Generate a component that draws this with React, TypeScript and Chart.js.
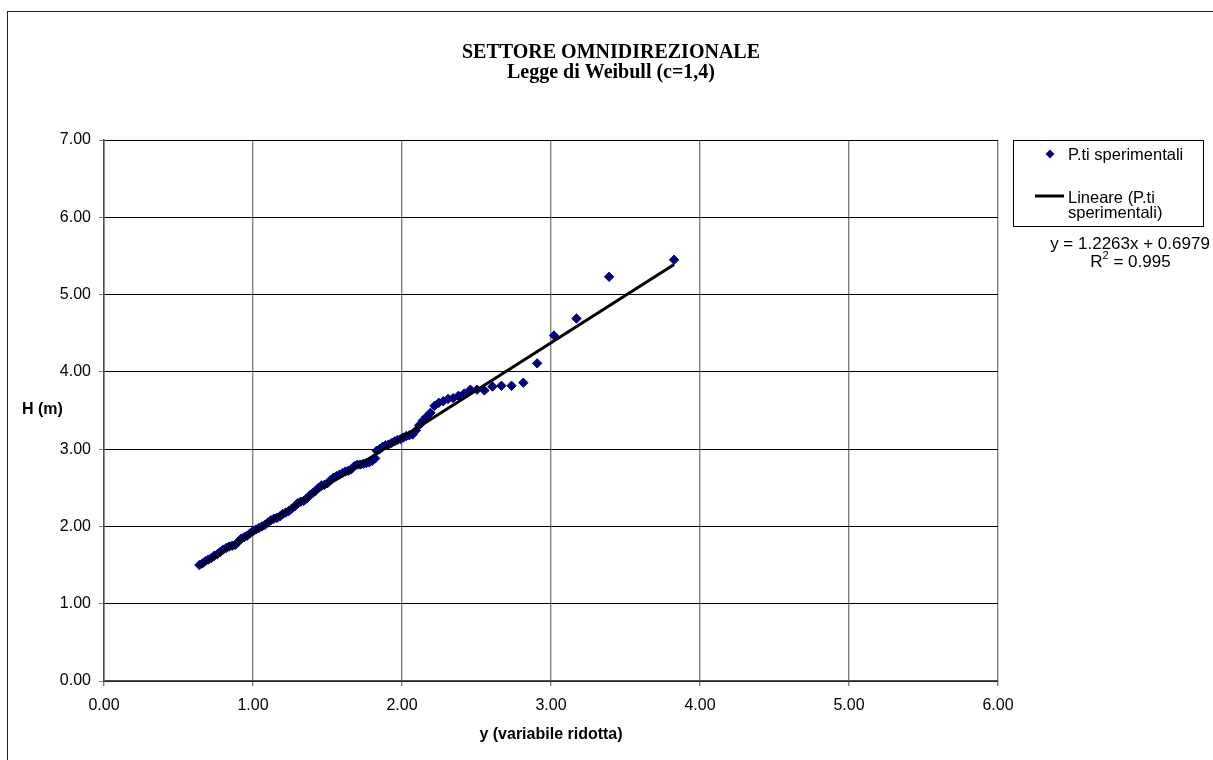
import React, { useEffect, useRef } from "react";
import { Chart, registerables } from "chart.js";

Chart.register(...registerables);

const titleLines = ["SETTORE OMNIDIREZIONALE", "Legge di Weibull (c=1,4)"];
const xAxisTitle = "y (variabile ridotta)";
const yAxisTitle = "H (m)";
const seriesLabel = "P.ti sperimentali";
const trendLegendLines = ["Lineare (P.ti", "sperimentali)"];
const trendSlope = 1.2263;
const trendIntercept = 0.6979;
const rSquared = "0.995";

const xTickValues = [0, 1, 2, 3, 4, 5, 6];
const yTickValues = [0, 1, 2, 3, 4, 5, 6, 7];

const xReduced = [
  0.64, 0.66, 0.68, 0.7, 0.72, 0.74, 0.76, 0.78, 0.8, 0.82,
  0.84, 0.86, 0.88, 0.9, 0.92, 0.94, 0.96, 0.98, 1.0, 1.02,
  1.04, 1.06, 1.08, 1.1, 1.12, 1.14, 1.16, 1.18, 1.2, 1.22,
  1.24, 1.26, 1.28, 1.3, 1.32, 1.34, 1.36, 1.38, 1.4, 1.42,
  1.44, 1.46, 1.48, 1.5, 1.52, 1.54, 1.56, 1.58, 1.6, 1.62,
  1.64, 1.66, 1.68, 1.7, 1.72, 1.74, 1.76, 1.78, 1.8, 1.82,
  1.83, 1.85, 1.87, 1.89, 1.91, 1.93, 1.95, 1.97, 1.99,
  2.009, 2.029, 2.049, 2.071, 2.093, 2.116, 2.14, 2.165, 2.191,
  2.218, 2.247, 2.277, 2.309, 2.343, 2.379, 2.417, 2.459, 2.504, 2.553,
  2.607, 2.667, 2.735, 2.814, 2.907, 3.02, 3.171, 3.39, 3.826,
];

const hValues = [
  1.5, 1.52, 1.55, 1.57, 1.59, 1.62, 1.64, 1.67, 1.7, 1.72,
  1.74, 1.75, 1.76, 1.8, 1.84, 1.86, 1.88, 1.91, 1.94, 1.96,
  1.98, 2.0, 2.02, 2.05, 2.08, 2.1, 2.11, 2.13, 2.16, 2.18,
  2.2, 2.23, 2.26, 2.3, 2.32, 2.33, 2.36, 2.4, 2.43, 2.46,
  2.5, 2.53, 2.54, 2.56, 2.6, 2.63, 2.65, 2.67, 2.69, 2.71,
  2.72, 2.74, 2.78, 2.8, 2.8, 2.81, 2.82, 2.83, 2.85, 2.88,
  2.98, 3.0, 3.03, 3.05, 3.06, 3.08, 3.1, 3.12, 3.13,
  3.15, 3.17, 3.18, 3.19, 3.24, 3.31, 3.37, 3.42, 3.47,
  3.56, 3.6, 3.62, 3.65, 3.66, 3.69, 3.72, 3.77, 3.77, 3.76,
  3.81, 3.82, 3.82, 3.86, 4.11, 4.47, 4.69, 5.23, 5.45,
];

const SANS = "'Liberation Sans', Arial, sans-serif";
const SERIF = "'Liberation Serif', 'Times New Roman', serif";
const NAVY = "#000080";

const decorPlugin = {
  id: "decor",
  afterDraw(chart: any) {
    const ctx = chart.ctx as CanvasRenderingContext2D;
    const area = chart.chartArea;
    ctx.save();
    ctx.fillStyle = "#000";
    // Title
    ctx.font = `bold 20px ${SERIF}`;
    ctx.textAlign = "center";
    ctx.textBaseline = "middle";
    ctx.fillText(titleLines[0], 611, 53);
    ctx.fillText(titleLines[1], 611, 73);
    // Axis titles
    ctx.font = `bold 16px ${SANS}`;
    ctx.textAlign = "center";
    ctx.fillText(xAxisTitle, (area.left + area.right) / 2, 735);
    ctx.textAlign = "left";
    ctx.fillText(yAxisTitle, 22, 410);
    // Legend
    ctx.strokeStyle = "#000";
    ctx.lineWidth = 1;
    ctx.strokeRect(1013.5, 140.5, 190, 86);
    ctx.fillStyle = NAVY;
    ctx.beginPath();
    ctx.moveTo(1050 - 4.5, 154);
    ctx.lineTo(1050, 154 - 4.5);
    ctx.lineTo(1050 + 4.5, 154);
    ctx.lineTo(1050, 154 + 4.5);
    ctx.closePath();
    ctx.fill();
    ctx.fillStyle = "#000";
    ctx.font = `16.5px ${SANS}`;
    ctx.textAlign = "left";
    ctx.fillText(seriesLabel, 1068, 155);
    ctx.lineWidth = 3;
    ctx.beginPath();
    ctx.moveTo(1035, 196);
    ctx.lineTo(1064, 196);
    ctx.stroke();
    ctx.fillText(trendLegendLines[0], 1068, 198);
    ctx.fillText(trendLegendLines[1], 1068, 213);
    // Equation
    ctx.font = `17px ${SANS}`;
    ctx.textAlign = "center";
    const eq = `y = ${trendSlope}x + ${trendIntercept}`;
    ctx.fillText(eq, 1130, 244);
    const partR = "R";
    const partRest = ` = ${rSquared}`;
    const wR = ctx.measureText(partR).width;
    const wRest = ctx.measureText(partRest).width;
    ctx.font = `11px ${SANS}`;
    const wSup = ctx.measureText("2").width;
    const total = wR + wSup + wRest;
    const x0 = 1130.5 - total / 2;
    ctx.textAlign = "left";
    ctx.font = `17px ${SANS}`;
    ctx.fillText(partR, x0, 262);
    ctx.font = `11px ${SANS}`;
    ctx.fillText("2", x0 + wR, 256);
    ctx.font = `17px ${SANS}`;
    ctx.fillText(partRest, x0 + wR + wSup, 262);
    ctx.restore();
  },
};

export default function App() {
  const canvasRef = useRef<HTMLCanvasElement | null>(null);

  useEffect(() => {
    const canvas = canvasRef.current;
    if (!canvas) return;
    const points = xReduced.map((x, i) => ({ x, y: hValues[i] }));
    const xMin = Math.min(...xReduced);
    const xMax = Math.max(...xReduced);
    const trend = [
      { x: xMin, y: trendSlope * xMin + trendIntercept },
      { x: xMax, y: trendSlope * xMax + trendIntercept },
    ];
    const chart = new Chart(canvas, {
      type: "scatter",
      data: {
        datasets: [
          {
            label: "Lineare (P.ti sperimentali)",
            data: trend,
            showLine: true,
            borderColor: "#000",
            borderWidth: 3,
            pointRadius: 0,
            order: 0,
          },
          {
            label: seriesLabel,
            data: points,
            pointStyle: "rectRot",
            pointRadius: 4.7,
            pointBorderWidth: 1,
            backgroundColor: NAVY,
            borderColor: NAVY,
            order: 1,
          },
        ],
      },
      options: {
        animation: false,
        responsive: false,
        devicePixelRatio: 1,
        layout: { padding: { left: 0, top: 140, right: 215, bottom: 0 } },
        plugins: {
          legend: { display: false },
          title: { display: false },
          tooltip: { enabled: false },
        },
        scales: {
          x: {
            type: "linear",
            min: xTickValues[0],
            max: xTickValues[xTickValues.length - 1],
            afterFit: (s: any) => {
              s.height = 79;
            },
            afterBuildTicks: (s: any) => {
              s.ticks = xTickValues.map((v) => ({ value: v }));
            },
            ticks: {
              font: { family: SANS, size: 16 },
              color: "#000",
              padding: 10,
              callback: (v: any) => Number(v).toFixed(2),
            },
            grid: {
              color: "#808080",
              lineWidth: 1.4,
              tickLength: 5,
              tickColor: "#808080",
            },
            border: { color: "#4d4d4d", width: 1.5 },
          },
          y: {
            type: "linear",
            min: yTickValues[0],
            max: yTickValues[yTickValues.length - 1],
            afterFit: (s: any) => {
              s.width = 104;
            },
            afterBuildTicks: (s: any) => {
              s.ticks = yTickValues.map((v) => ({ value: v }));
            },
            ticks: {
              font: { family: SANS, size: 16 },
              color: "#000",
              padding: 8,
              callback: (v: any) => Number(v).toFixed(2),
            },
            grid: {
              color: "#000",
              lineWidth: 1,
              tickLength: 5,
              tickColor: "#808080",
            },
            border: { color: "#4d4d4d", width: 1.5 },
          },
        },
      },
      plugins: [decorPlugin],
    });
    return () => chart.destroy();
  }, []);

  return (
    <div
      style={{
        position: "absolute",
        left: 0,
        top: 0,
        width: 1213,
        height: 760,
        overflow: "hidden",
        background: "#fff",
      }}
    >
      <canvas
        ref={canvasRef}
        width={1213}
        height={760}
        style={{ position: "absolute", left: 0, top: 0, width: 1213, height: 760 }}
      />
      <div
        style={{
          position: "absolute",
          left: 7,
          top: 11,
          width: 1300,
          height: 900,
          borderLeft: "1px solid #222",
          borderTop: "1px solid #222",
          pointerEvents: "none",
        }}
      />
    </div>
  );
}
